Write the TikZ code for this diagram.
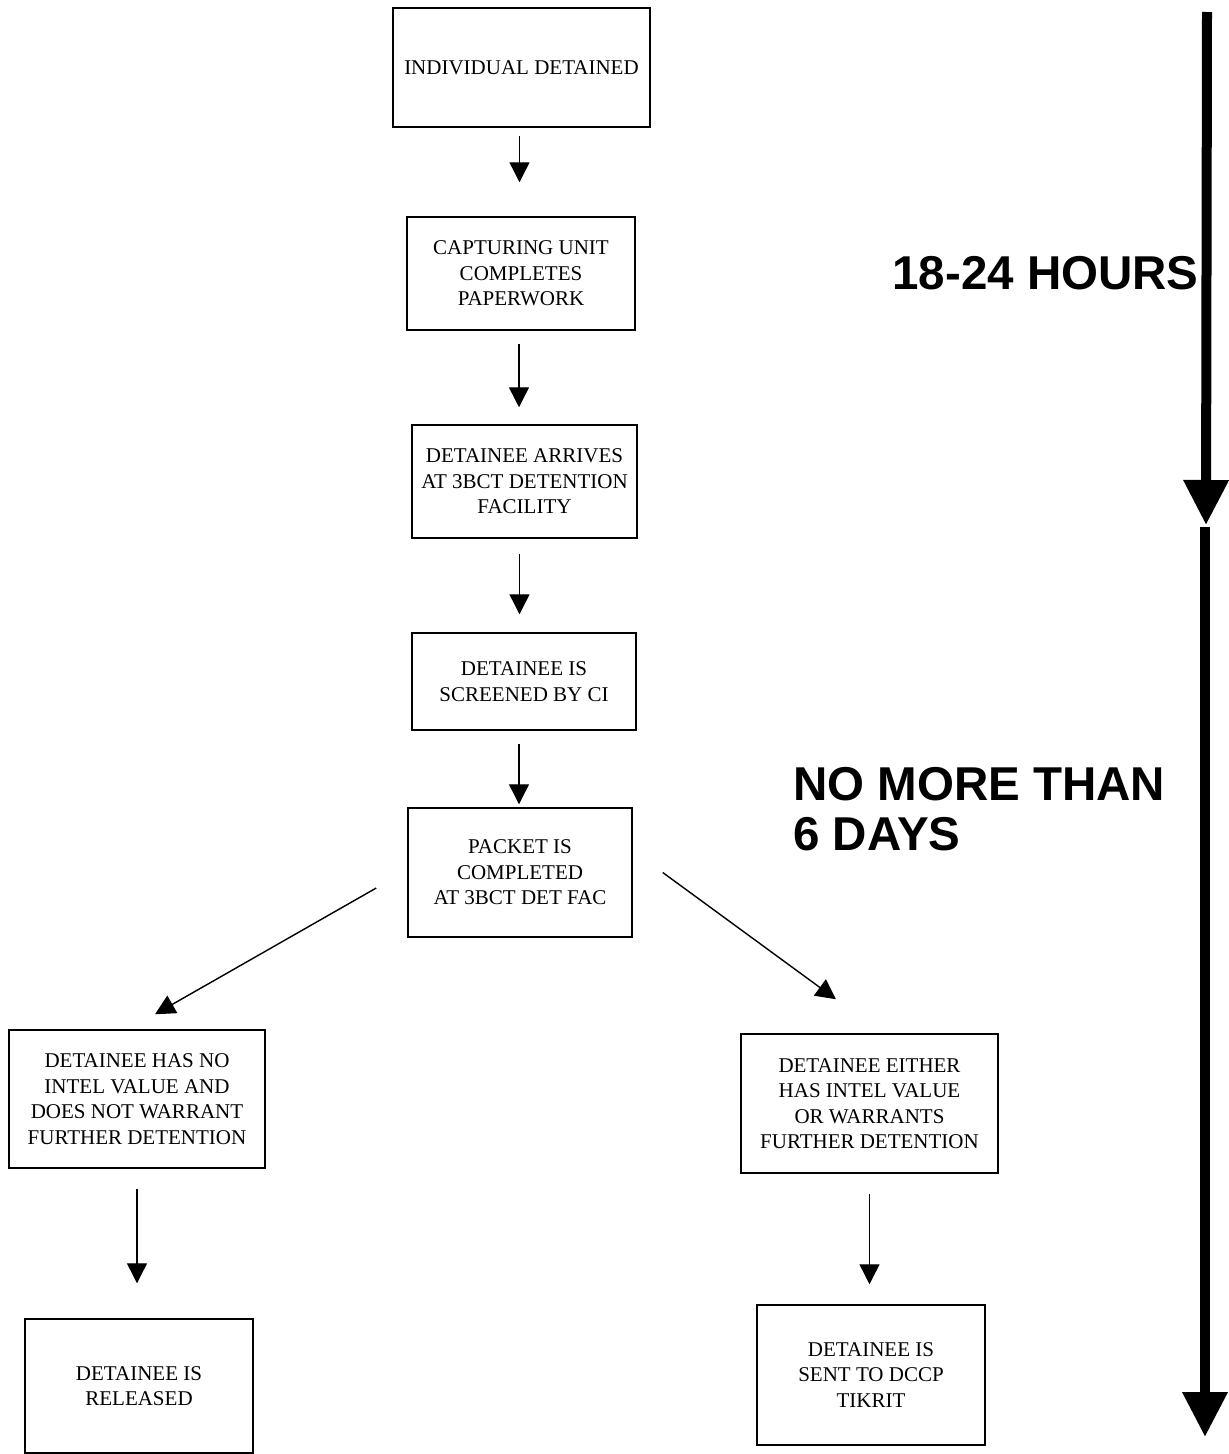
\documentclass[tikz,border=0pt]{standalone}
\usepackage{fontspec}
\usepackage{xcolor}
\usetikzlibrary{arrows.meta}
\setmainfont{Liberation Serif}
\newfontfamily\headfont{Liberation Sans}

\begin{document}
\begin{tikzpicture}[x=1pt, y=1pt,
    stepbox/.style={draw, line width=1.5pt, inner sep=0pt, align=center,
      font=\fontsize{21}{25.5}\selectfont},
    flow/.style={line width=1.4pt, -{Triangle[width=20pt,length=20pt]}},
    span/.style={line width=10pt, -{Triangle[width=43pt,length=45pt]}},
    period/.style={font=\headfont\bfseries\fontsize{47.5}{50}\selectfont, align=left}]
      \useasboundingbox (0,0) rectangle (1229,-1454);
      \node[stepbox, minimum width=257pt, minimum height=119pt] (detained) at (521.5,-67.5) {INDIVIDUAL DETAINED};
      \node[stepbox, minimum width=228pt, minimum height=113pt] (paperwork) at (521,-273.5) {CAPTURING UNIT\\COMPLETES\\PAPERWORK};
      \node[stepbox, minimum width=225pt, minimum height=113pt] (arrives) at (524.5,-481.5) {DETAINEE ARRIVES\\AT 3BCT DETENTION\\FACILITY};
      \node[stepbox, minimum width=224pt, minimum height=97pt] (screened) at (524,-681.5) {DETAINEE IS\\SCREENED BY CI};
      \node[stepbox, minimum width=224pt, minimum height=129pt] (packet) at (520,-872.5) {PACKET IS\\COMPLETED\\AT 3BCT DET FAC};
      \node[stepbox, minimum width=256pt, minimum height=138pt] (nointel) at (137,-1099) {DETAINEE HAS NO\\INTEL VALUE AND\\DOES NOT WARRANT\\FURTHER DETENTION};
      \node[stepbox, minimum width=257pt, minimum height=139pt] (intel) at (869.5,-1103.5) {DETAINEE EITHER\\HAS INTEL VALUE\\OR WARRANTS\\FURTHER DETENTION};
      \node[stepbox, minimum width=228pt, minimum height=134pt] (released) at (139,-1386) {DETAINEE IS\\RELEASED};
      \node[stepbox, minimum width=228pt, minimum height=140pt] (tikrit) at (871,-1375) {DETAINEE IS\\SENT TO DCCP\\TIKRIT};
      \draw[flow, shorten <=8pt, shorten >=34pt] ([xshift=-2pt]detained.south) -- ([xshift=-2pt]detained.south |- paperwork.north);
      \draw[flow, shorten <=13pt, shorten >=17pt] ([xshift=-2pt]paperwork.south) -- ([xshift=-2pt]paperwork.south |- arrives.north);
      \draw[flow, shorten <=15pt, shorten >=18pt] ([xshift=-5pt]arrives.south) -- ([xshift=-5pt]arrives.south |- screened.north);
      \draw[flow, shorten <=13pt, shorten >=3pt] ([xshift=-5pt]screened.south) -- ([xshift=-5pt]screened.south |- packet.north);
      \draw[flow] ([xshift=-31pt,yshift=-15.5pt]packet.west) -- ([xshift=18pt,yshift=15pt]nointel.north);
      \draw[flow] ([xshift=30pt]packet.east) -- ([xshift=-33.5pt,yshift=34pt]intel.north);
      \draw[flow, shorten <=20pt, shorten >=35pt] (nointel.south) -- (nointel.south |- released.north);
      \draw[flow, shorten <=20pt, shorten >=20pt] (intel.south) -- (intel.south |- tikrit.north);
      \coordinate (t0) at (1207,-12);
      \coordinate (t1) at (1206,-525);
      \coordinate (t2) at (1205,-527);
      \coordinate (t3) at (1205,-1437);
      \draw[span] (t0) -- (t1);
      \draw[span] (t2) -- (t3);
      \node[period, anchor=base west] (hours) at (889,-289) {18-24 HOURS};
      \node[period, anchor=north west, inner sep=0pt] (days) at (793,-767) {NO MORE THAN\\6 DAYS};
    \end{tikzpicture}
\end{document}
